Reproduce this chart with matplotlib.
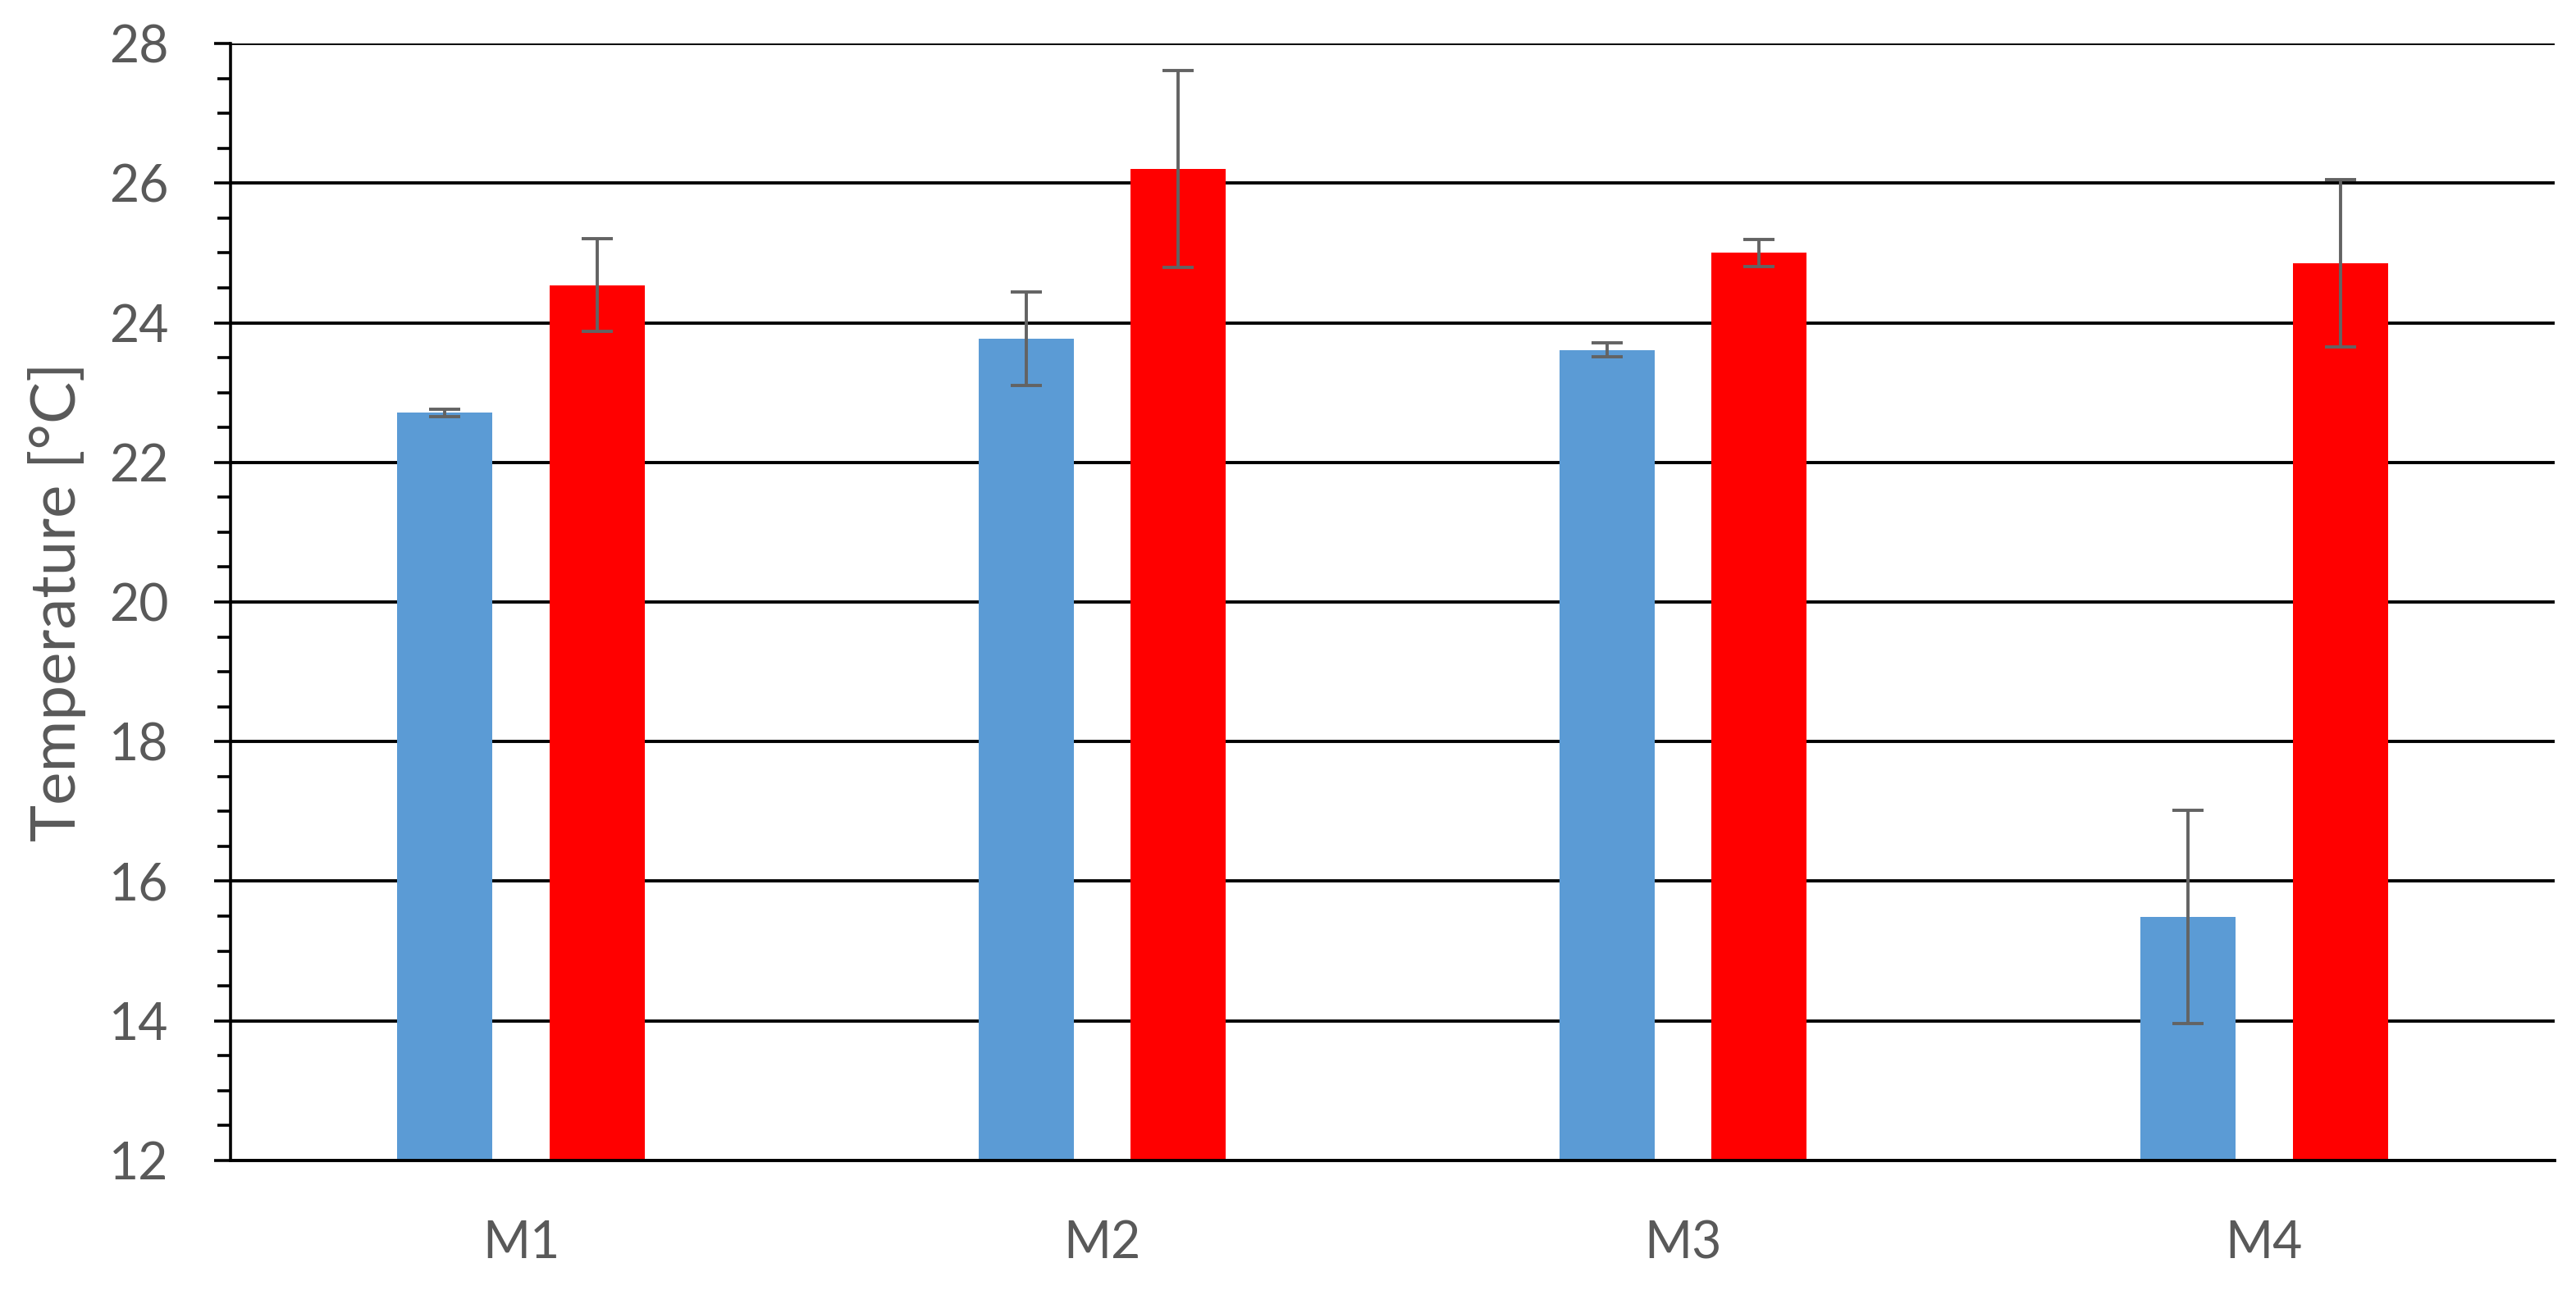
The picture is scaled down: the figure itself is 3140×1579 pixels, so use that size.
import matplotlib
matplotlib.use("Agg")
import matplotlib.pyplot as plt
from matplotlib.ticker import MultipleLocator
import numpy as np

categories = ["M1", "M2", "M3", "M4"]
blue_values = [22.71, 23.77, 23.61, 15.49]
blue_errors = [0.05, 0.67, 0.10, 1.53]
red_values = [24.54, 26.20, 25.00, 24.85]
red_errors = [0.66, 1.41, 0.19, 1.20]
y_ticks = [12, 14, 16, 18, 20, 22, 24, 26, 28]

plt.rcParams['font.family'] = ['Lato', 'DejaVu Sans']
text_color = '#595959'

fig = plt.figure(figsize=(31.4, 15.79), dpi=100)
ax = fig.add_axes([0.0895, 0.1039, 0.9022, 0.8625])

x = np.arange(len(categories))
offset = 0.131
width = 0.164
err_kw = dict(ecolor='#636363', elinewidth=2.8, capsize=13.5, capthick=2.8)
ax.bar(x - offset, blue_values, width, color='#5B9BD5',
       yerr=blue_errors, error_kw=err_kw, zorder=3)
ax.bar(x + offset, red_values, width, color='#FF0000',
       yerr=red_errors, error_kw=err_kw, zorder=3)

ax.set_xlim(-0.5, 3.5)
ax.set_ylim(12, 28)
ax.set_yticks(y_ticks)
ax.yaxis.set_minor_locator(MultipleLocator(0.5))
ax.set_xticks(x)
ax.set_xticklabels(categories)

ax.grid(axis='y', which='major', color='black', linewidth=2.8, zorder=1)
ax.set_axisbelow(True)
for s in ['top', 'right']:
    ax.spines[s].set_visible(False)
ax.spines['left'].set_linewidth(2.6)
ax.spines['bottom'].set_linewidth(2.8)
ax.spines['left'].set_zorder(4)
ax.spines['bottom'].set_zorder(4)

ax.tick_params(axis='y', which='major', length=14.5, width=2.6, color='black',
               labelsize=45, labelcolor=text_color, pad=40)
ax.tick_params(axis='y', which='minor', length=11.5, width=2.6, color='black')
ax.tick_params(axis='x', which='both', length=0, labelsize=45,
               labelcolor=text_color, pad=52)

ax.set_ylabel("Temperature [°C]", fontsize=55, color=text_color)
ax.yaxis.set_label_coords(-0.062, 0.5)

fig.savefig("out.png", dpi=100)
